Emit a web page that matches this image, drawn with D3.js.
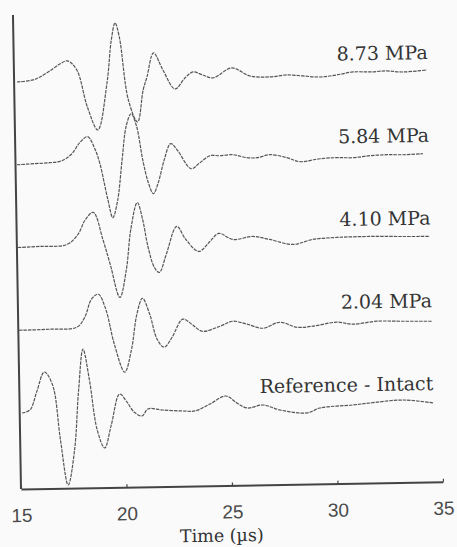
<!DOCTYPE html>
<html>
<head>
<meta charset="utf-8">
<script src="https://cdn.jsdelivr.net/npm/d3@7"></script>
<style>
  html, body { margin: 0; padding: 0; background: #fafafa; }
  svg { display: block; }
</style>
</head>
<body>
<svg id="chart" width="457" height="547"></svg>
<script>
// ---- data (time in µs, amplitude in arbitrary units) ----
const labels = ["8.73 MPa", "5.84 MPa", "4.10 MPa", "2.04 MPa", "Reference - Intact"];
const xTicks = [15, 20, 25, 30, 35];
const axisTitle = "Time (\u00b5s)";

const trace873 = [[15.14,0],[15.90,1.8],[16.23,4.7],[16.70,10.5],[17.18,17.3],[17.55,20.2],[17.98,11],[18.45,-26],[18.93,-49.3],[19.40,-2.5],[19.64,40.5],[19.83,57.4],[20.02,43.3],[20.40,-19.8],[20.82,-42],[21.11,-10],[21.30,2.9],[21.63,26.8],[22.06,9.6],[22.62,-9.6],[23.10,1.2],[23.48,7.1],[23.95,3.9],[24.43,0.8],[25.33,10.4],[26.18,2.1],[27.13,0.8],[27.93,2.5],[28.69,1.2],[29.49,-0.1],[30.30,1.7],[31.06,4.4],[31.87,4.1],[32.67,4.8],[33.43,3.5],[34.57,5.1]];

const trace584 = [[15.07,0],[15.92,0.8],[16.64,1.5],[17.20,3.3],[17.68,10.1],[18.06,21],[18.44,26.9],[18.77,14.7],[19.00,-0.3],[19.34,-35.5],[19.57,-54.5],[19.81,-37.6],[20.05,2.3],[20.28,37.2],[20.52,49.1],[20.76,37],[21.04,1.9],[21.28,-20.2],[21.51,-31.2],[21.75,-20.3],[22.04,1.6],[22.37,18.5],[22.70,11.3],[23.32,-6.9],[23.74,-1],[24.22,5.8],[24.69,5.6],[25.31,6.4],[25.97,3.2],[26.45,3],[27.06,5.8],[27.87,2.5],[28.48,-1.7],[29.43,0.9],[30.24,1.7],[31.00,1.4],[31.80,3.1],[32.61,3.8],[33.37,3.5],[34.31,4.2]];

const trace410 = [[15.05,0],[16.09,0.7],[17.37,2.2],[17.90,12],[18.27,26.9],[18.65,33.8],[19.08,6.6],[19.41,-18.5],[19.84,-51.7],[20.17,-23.8],[20.41,16.1],[20.74,43],[20.98,25.9],[21.21,-1.2],[21.50,-22.3],[21.73,-27.3],[22.07,-9.5],[22.59,18.4],[23.01,5.2],[23.62,-7],[24.15,2.8],[24.58,10.7],[25.24,4.4],[26.19,7.1],[26.99,3.8],[28.08,-1.6],[29.03,3.1],[30.17,4.7],[31.73,5.1],[33.30,4.5],[34.58,4.1]];

const trace204 = [[15.03,0],[16.50,0.5],[17.78,2.1],[18.16,11.9],[18.49,29.8],[18.82,34.7],[19.16,19.6],[19.54,-15.6],[20.01,-43.7],[20.35,-20.9],[20.63,14],[20.91,29.9],[21.24,13.8],[21.57,-11.3],[21.90,-19.4],[22.28,-9.6],[22.80,8.3],[23.23,3.1],[23.71,-4.1],[24.56,0.6],[25.18,5.4],[25.84,2.2],[26.60,-2.1],[27.40,3.6],[28.21,-1.7],[28.96,-0.9],[30.10,2.7],[30.86,0.4],[32.00,3],[33.23,2.5],[34.65,2]];

const traceRef = [[15.11,0],[15.49,2.9],[15.82,20.7],[16.20,40.6],[16.58,27.5],[16.91,-27.7],[17.24,-72.8],[17.57,-37.9],[17.81,22],[18.05,62.9],[18.33,31.8],[18.66,-18.3],[19.00,-36.4],[19.33,-13.5],[19.75,17.3],[20.09,9.2],[20.42,-0.9],[20.80,-5],[21.08,1.9],[21.75,0.6],[22.70,-0.7],[23.31,-0.9],[24.02,5.8],[24.78,13.5],[25.30,6.3],[25.78,1.2],[26.54,3.9],[27.34,-1.4],[28.62,-4.8],[29.23,-0.1],[30.80,2.4],[31.60,4.1],[33.17,6.5],[34.59,3.1]];

const traces = [trace873, trace584, trace410, trace204, traceRef];

// ---- layout ----
const svg = d3.select("#chart");
const x = d3.scaleLinear().domain([15, 35]).range([21, 443]);
const row = d3.scalePoint().domain(labels).range([82, 413]);
const amp = d3.scaleLinear().domain([-100, 100]).range([100, -100]);
const axisY = 489, axisTop = 15;

// the scanned figure is tilted by about one degree
const g = svg.append("g").attr("transform", `rotate(-0.97,${x(15)},${axisY})`);

// left frame line
g.append("line")
  .attr("x1", x(15)).attr("x2", x(15))
  .attr("y1", axisY).attr("y2", axisTop)
  .attr("stroke", "#444").attr("stroke-width", 2);

// bottom axis
const xAxis = d3.axisBottom(x).tickValues(xTicks).tickSizeInner(-3).tickSizeOuter(0).tickFormat(d3.format("d"));
const ax = g.append("g").attr("transform", `translate(0,${axisY})`).call(xAxis);
ax.select(".domain").attr("stroke", "#444").attr("stroke-width", 2);
ax.selectAll(".tick line").attr("stroke", "#444").attr("stroke-width", 1.2);
ax.selectAll(".tick text")
  .attr("y", 33).attr("dy", 0)
  .attr("fill", "#4a4a4a")
  .style("font-family", "'Liberation Sans', Arial, sans-serif")
  .style("font-size", "19px");

// axis title
g.append("text")
  .attr("x", 221).attr("y", 545)
  .attr("text-anchor", "middle")
  .attr("fill", "#333")
  .style("font-family", "'DejaVu Serif', serif")
  .style("font-size", "17.5px")
  .text(axisTitle);

// traces
const line = d3.line().curve(d3.curveCatmullRom.alpha(0.5));
traces.forEach((tr, i) => {
  const base = row(labels[i]);
  g.append("path")
    .attr("d", line(tr.map(d => [x(d[0]), base + amp(d[1])])))
    .attr("fill", "none")
    .attr("stroke", "#555")
    .attr("stroke-width", 1.2)
    .attr("stroke-dasharray", "3.5,1");
  g.append("text")
    .attr("x", 435).attr("y", base - 16)
    .attr("text-anchor", "end")
    .attr("fill", "#333")
    .style("font-family", "'DejaVu Serif', serif")
    .style("font-size", "19px")
    .text(labels[i]);
});
</script>
</body>
</html>
